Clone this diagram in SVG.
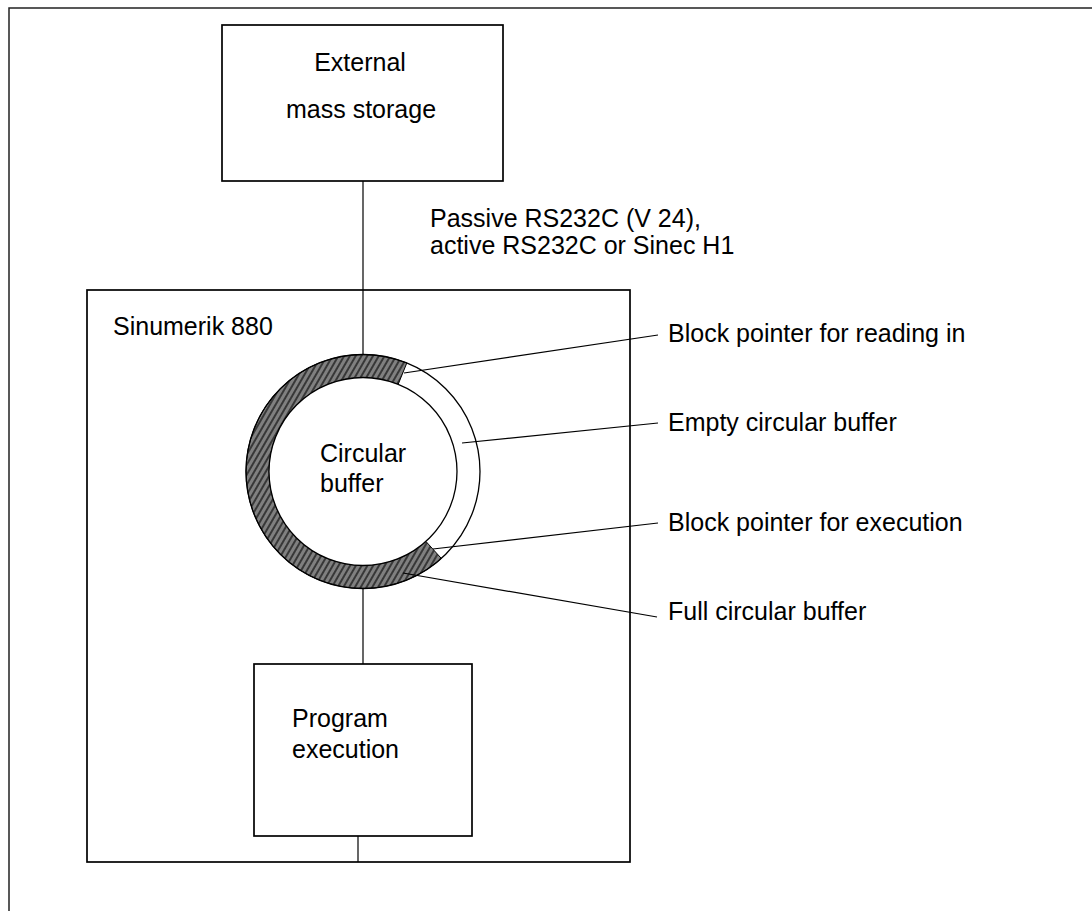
<svg xmlns="http://www.w3.org/2000/svg" width="1092" height="911" viewBox="0 0 1092 911">
<style>
.box{fill:#fff;stroke:#000;stroke-width:1.7}
.frame{fill:none;stroke:#222;stroke-width:1.5}
.ln{stroke:#000;stroke-width:1.2;fill:none}
.t{font-family:"Liberation Sans",Arial,sans-serif;font-size:25px;fill:#000}
</style>
<defs>
<pattern id="hatch" patternUnits="userSpaceOnUse" width="5" height="10" patternTransform="rotate(30)">
<rect width="5" height="10" fill="#808080"/>
<line x1="1" y1="0" x2="1" y2="10" stroke="#111" stroke-width="1.3"/>
</pattern>
</defs>
<rect class="frame" x="9" y="8" width="1200" height="1000"/>
<g id="sinumerik">
<rect class="box" x="87" y="290" width="543" height="572"/>
<text class="t" x="113" y="335">Sinumerik 880</text>
</g>
<g id="external">
<rect class="box" x="222" y="25" width="281" height="156"/>
<text class="t" x="360" y="71" text-anchor="middle">External</text>
<text class="t" x="361" y="118" text-anchor="middle">mass storage</text>
</g>
<g id="buffer">
<path d="M406.8,363 A117,117 0 1 0 441.3,558.4 L425.9,541.4 A94,94 0 1 1 398.2,384.3 Z" fill="url(#hatch)" stroke="#000" stroke-width="1"/>
<circle cx="363" cy="471.5" r="117" fill="none" stroke="#000" stroke-width="1.3"/>
<circle cx="363" cy="471.5" r="94" fill="#fff" stroke="#000" stroke-width="1.3"/>
<text class="t" x="320" y="462">Circular</text>
<text class="t" x="320" y="492">buffer</text>
</g>
<g id="program">
<rect class="box" x="254" y="664" width="218" height="172"/>
<text class="t" x="292" y="727">Program</text>
<text class="t" x="292" y="758">execution</text>
</g>
<g id="connectors">
<line class="ln" x1="363" y1="181" x2="363" y2="355"/>
<line class="ln" x1="363" y1="588" x2="363" y2="664"/>
<line class="ln" x1="358" y1="836" x2="358" y2="862"/>
<line class="ln" x1="404" y1="373" x2="658" y2="335"/>
<line class="ln" x1="462" y1="443" x2="658" y2="423"/>
<line class="ln" x1="433" y1="549" x2="658" y2="523"/>
<line class="ln" x1="403" y1="573" x2="657" y2="617"/>
</g>
<g id="labels">
<text class="t" x="430" y="227">Passive RS232C (V 24),</text>
<text class="t" x="430" y="254">active RS232C or Sinec H1</text>
<text class="t" x="668" y="342">Block pointer for reading in</text>
<text class="t" x="668" y="431">Empty circular buffer</text>
<text class="t" x="668" y="531">Block pointer for execution</text>
<text class="t" x="668" y="620">Full circular buffer</text>
</g>
</svg>
